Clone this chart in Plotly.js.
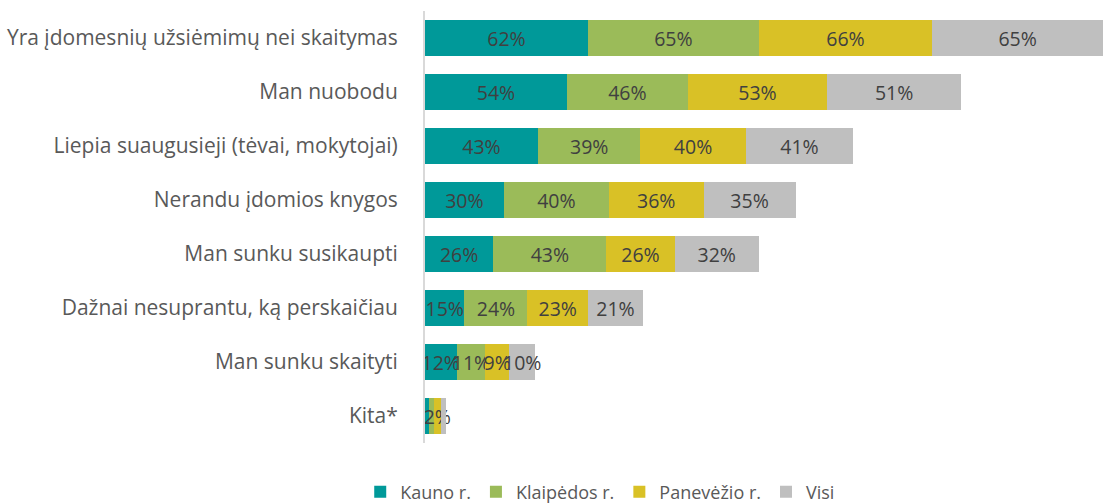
<!DOCTYPE html>
<html>
<head>
<meta charset="utf-8">
<script src="https://cdn.plot.ly/plotly-3.0.1.min.js"></script>
<style>html,body{margin:0;padding:0;background:#fff;}#chart{width:1105px;height:504px;}</style>
</head>
<body>
<div id="chart"></div>
<script>
var categories = [
  "Yra įdomesnių užsiėmimų nei skaitymas",
  "Man nuobodu",
  "Liepia suaugusieji (tėvai, mokytojai)",
  "Nerandu įdomios knygos",
  "Man sunku susikaupti",
  "Dažnai nesuprantu, ką perskaičiau",
  "Man sunku skaityti",
  "Kita*"
];
var seriesNames = ["Kauno r.", "Klaipėdos r.", "Panevėžio r.", "Visi"];
var kauno     = [62, 54, 43, 30, 26, 15, 12, 1.5];
var klaipedos = [65, 46, 39, 40, 43, 24, 11, 2];
var panevezio = [66, 53, 40, 36, 26, 23, 9, 2.4];
var visi      = [65, 51, 41, 35, 32, 21, 10, 2];
// which labels are visible in the reference (Kita* shows only one)
var showKauno     = [1,1,1,1,1,1,1,0];
var showKlaipedos = [1,1,1,1,1,1,1,0];
var showPanevezio = [1,1,1,1,1,1,1,1];
var showVisi      = [1,1,1,1,1,1,1,0];

var colors = ["#009999", "#9BBB59", "#D9C126", "#BFBFBF"];
var allVals = [kauno, klaipedos, panevezio, visi];
var allShow = [showKauno, showKlaipedos, showPanevezio, showVisi];

var traces = allVals.map(function(vals, i){
  return {
    type: 'bar',
    orientation: 'h',
    name: seriesNames[i],
    y: categories,
    x: vals,
    marker: {color: colors[i], line: {width: 0}},
    text: vals.map(function(v, j){ return allShow[i][j] ? Math.round(v) + '%' : ''; }),
    textposition: 'inside',
    insidetextanchor: 'middle',
    constraintext: 'none',
    textangle: 0,
    cliponaxis: false,
    textfont: {family: 'Open Sans, sans-serif', size: 19.5, color: '#404040'},
    hoverinfo: 'skip'
  };
});

var layout = {
  width: 1105, height: 504,
  margin: {l: 425, r: 2, t: 11, b: 61, autoexpand: false},
  barmode: 'stack',
  bargap: 0.33,
  paper_bgcolor: '#fff', plot_bgcolor: '#fff',
  showlegend: true,
  legend: {
    orientation: 'h', xref: 'container', yref: 'paper',
    x: 0.326, xanchor: 'left', y: -0.071, yanchor: 'top',
    font: {family: 'Open Sans, sans-serif', size: 18, color: '#595959'},
    traceorder: 'normal', itemwidth: 30
  },
  xaxis: {range: [0, 258], visible: false, fixedrange: true},
  yaxis: {
    autorange: 'reversed', type: 'category',
    showline: true, linecolor: '#D9D9D9', linewidth: 2,
    showgrid: false, zeroline: false,
    ticks: '', ticklabelstandoff: 21,
    tickfont: {family: 'Open Sans, sans-serif', size: 21, color: '#595959'}
  }
};
Plotly.newPlot('chart', traces, layout, {displayModeBar: false, staticPlot: true});
</script>
</body>
</html>
